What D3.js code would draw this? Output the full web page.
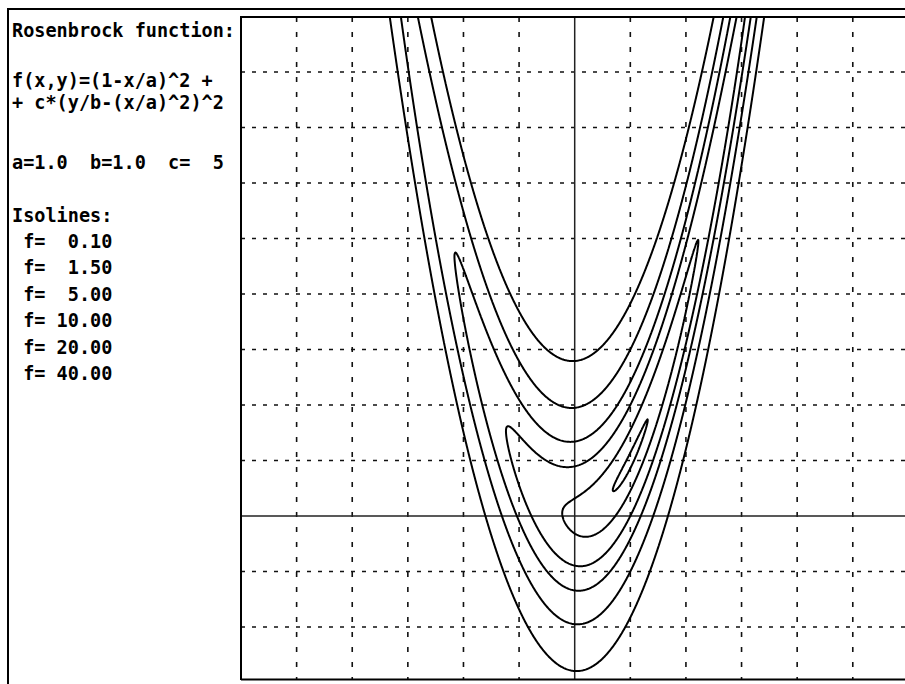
<!DOCTYPE html>
<html><head><meta charset="utf-8">
<script src="https://cdn.jsdelivr.net/npm/d3@7"></script>
<style>body{margin:0;background:#fff;} svg{display:block;}</style>
</head><body><svg id="c" width="905" height="684"></svg>
<script>
// ---- data ----
const paramNames = ["a", "b", "c"];
const paramValues = [1.0, 1.0, 5];
const isolineLevels = [0.10, 1.50, 5.00, 10.00, 20.00, 40.00];
const xDomain = [-6, 6];
const yDomain = [-3, 9];
const xGridTicks = [-5, -4, -3, -2, -1, 1, 2, 3, 4, 5];
const yGridTicks = [-2, -1, 1, 2, 3, 4, 5, 6, 7, 8];
const titleLines = ["Rosenbrock function:", "f(x,y)=(1-x/a)^2 +", "+ c*(y/b-(x/a)^2)^2"];
const isolineHeader = "Isolines:";

// ---- layout ----
const svg = d3.select("#c");
const plot = {left: 241, top: 17, right: 905, bottom: 679};
const x = d3.scaleLinear().domain(xDomain).range([241, 908.4]);
const y = d3.scaleLinear().domain(yDomain).range([682.5, 16.5]);

const [A, B, C] = paramValues;
const f = (px, py) => (1 - px / A) ** 2 + C * (py / B - (px / A) ** 2) ** 2;

svg.append("defs").append("clipPath").attr("id", "clip")
  .append("rect").attr("x", plot.left).attr("y", plot.top)
  .attr("width", plot.right - plot.left).attr("height", plot.bottom - plot.top);

const g = svg.append("g");

// grid
g.append("g").selectAll("line").data(xGridTicks).join("line")
  .attr("x1", d => x(d)).attr("x2", d => x(d))
  .attr("y1", plot.top).attr("y2", plot.bottom)
  .attr("stroke", "#111").attr("stroke-width", 1.6).attr("stroke-dasharray", "5,10");
g.append("g").selectAll("line").data(yGridTicks).join("line")
  .attr("y1", d => y(d)).attr("y2", d => y(d))
  .attr("x1", plot.left).attr("x2", plot.right)
  .attr("stroke", "#111").attr("stroke-width", 1.6).attr("stroke-dasharray", "4,7");

// axes
g.append("line").attr("x1", x(0)).attr("x2", x(0)).attr("y1", plot.top).attr("y2", plot.bottom)
  .attr("stroke", "#222").attr("stroke-width", 1.5);
g.append("line").attr("y1", y(0)).attr("y2", y(0)).attr("x1", plot.left).attr("x2", plot.right)
  .attr("stroke", "#222").attr("stroke-width", 1.5);

// contours
const ext = 0.5;
const gx0 = xDomain[0] - ext, gx1 = xDomain[1] + ext;
const gy0 = yDomain[1] + ext, gy1 = yDomain[0] - ext; // row 0 at top
const n = 900, m = 900;
const sx = (gx1 - gx0) / (n - 1), sy = (gy1 - gy0) / (m - 1);
const values = new Float64Array(n * m);
for (let j = 0; j < m; j++) {
  const yy = gy0 + j * sy;
  for (let i = 0; i < n; i++) values[j * n + i] = f(gx0 + i * sx, yy);
}
const contours = d3.contours().size([n, m]).thresholds(isolineLevels)(values);
const proj = d3.geoTransform({
  point(px, py) { this.stream.point(x(gx0 + (px - 0.5) * sx), y(gy0 + (py - 0.5) * sy)); }
});
const path = d3.geoPath(proj);
g.append("g").attr("clip-path", "url(#clip)").selectAll("path").data(contours).join("path")
  .attr("d", path).attr("fill", "none").attr("stroke", "#000")
  .attr("stroke-width", 2).attr("stroke-linejoin", "round");

// frames
const frame = svg.append("g").attr("stroke", "#000").attr("stroke-width", 2).attr("fill", "none");
frame.append("line").attr("x1", 7).attr("x2", 905).attr("y1", 9).attr("y2", 9);
frame.append("line").attr("x1", 8).attr("x2", 8).attr("y1", 8).attr("y2", 684);
frame.append("line").attr("x1", plot.left).attr("x2", plot.left).attr("y1", plot.top - 1).attr("y2", plot.bottom + 1);
frame.append("line").attr("x1", plot.left).attr("x2", plot.right).attr("y1", plot.top).attr("y2", plot.top);
frame.append("line").attr("x1", plot.left).attr("x2", plot.right).attr("y1", plot.bottom + 0.5).attr("y2", plot.bottom + 0.5);

// text panel
const pitch = 11.15;
const fmtLevel = v => " f=" + v.toFixed(2).padStart(6);
const paramLine = paramNames.map((nm, i) =>
  nm + "=" + (i < 2 ? paramValues[i].toFixed(1) : String(paramValues[i]).padStart(3))).join("  ");
const rows = [
  {t: titleLines[0], y: 37},
  {t: titleLines[1], y: 87},
  {t: titleLines[2], y: 109},
  {t: paramLine, y: 169},
  {t: isolineHeader, y: 222},
  ...isolineLevels.map((v, i) => ({t: fmtLevel(v), y: 248 + i * 26.4}))
];
svg.append("g").selectAll("text").data(rows).join("text")
  .attr("x", 12).attr("y", d => d.y)
  .attr("xml:space", "preserve").style("white-space", "pre")
  .attr("font-family", "DejaVu Sans Mono").attr("font-weight", "bold").attr("font-size", 20)
  .attr("textLength", d => d.t.length * pitch).attr("lengthAdjust", "spacingAndGlyphs")
  .attr("fill", "#000")
  .text(d => d.t);
</script></body></html>
